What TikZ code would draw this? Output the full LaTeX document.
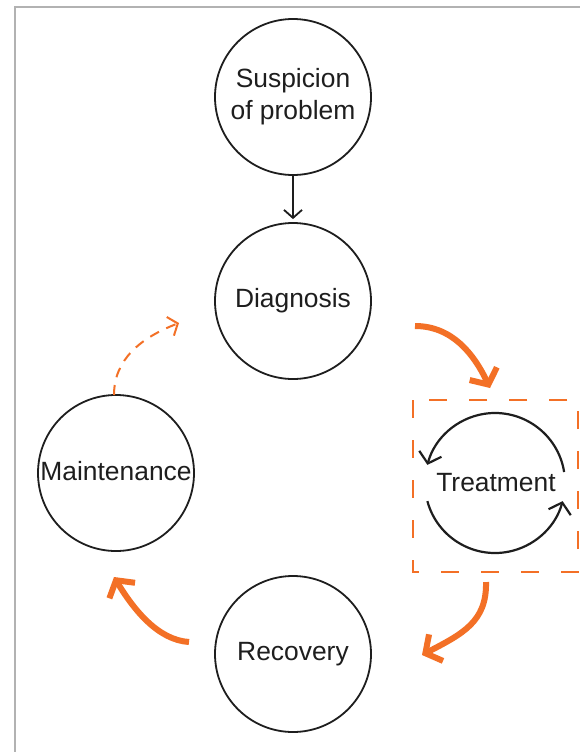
\documentclass[tikz,border=0pt]{standalone}
\usepackage{fontspec}
\setmainfont{Liberation Sans}
\usetikzlibrary{arrows.meta}
\definecolor{orng}{RGB}{243,112,38}
\definecolor{ink}{RGB}{30,30,30}
\definecolor{frame}{RGB}{178,178,178}
\begin{document}
\begin{tikzpicture}[x=1bp,y=-1bp,
  stage/.style={circle,draw=ink,line width=1.8bp,minimum size=156bp,inner sep=0pt,align=center,
    text=ink,font=\fontsize{26.5}{32}\selectfont},
  blackarrow/.style={draw=ink,line width=1.8bp,-{Straight Barb[length=8bp,width=18bp]}},
  bigarrow/.style={draw=orng,line width=6bp,-{Straight Barb[length=12bp,width=30bp]}},
  dasharrow/.style={draw=orng,line width=2bp,dash pattern=on 10bp off 8bp,-{Straight Barb[length=8bp,width=20bp,line width=2bp]}},
  cyclearrow/.style={draw=ink,line width=2.2bp,-{Straight Barb[length=10bp,width=23bp]}},
  dashbox/.style={draw=orng,line width=2bp,dash pattern=on 18bp off 22bp}]
\useasboundingbox (0,0) rectangle (580,752);
\fill[white] (0,0) rectangle (580,752);
\draw[frame,line width=2bp] (14.5,752) -- (14.5,7.5) -- (580,7.5);

\node[stage] (susp) at (293,97) {Suspicion\\of problem};
\node[stage] (diag) at (293,301) {Diagnosis};
\node[stage] (maint) at (116,473) {\raisebox{4bp}{Maintenance}};
\node[stage] (recov) at (293,654) {Recovery};

\draw[dashbox] (413,400) rectangle (578,572);
\node[text=ink,font=\fontsize{26.5}{32}\selectfont,inner sep=0pt] (treat) at (496,483) {Treatment};

\draw[blackarrow] (susp.south) -- ([yshift=3bp]diag.north);

% cycle inside treatment
\coordinate (cc) at (495,483);
\draw[cyclearrow] ([shift={(9:70bp)}]cc) arc[start angle=9,end angle=165,radius=70bp];
\draw[cyclearrow] ([shift={(195:70bp)}]cc) arc[start angle=195,end angle=345,radius=70bp];

% orange arrows
\coordinate (a1s) at (415,326);
\coordinate (a1e) at (490,388);
\draw[bigarrow] (a1s) .. controls (452,326) and (474,354) .. (a1e);

\coordinate (a2s) at (486,582);
\coordinate (a2e) at (422,655);
\draw[bigarrow] (a2s) .. controls (487,622) and (462,634) .. (a2e);

\coordinate (a3s) at (189,642);
\coordinate (a3e) at (114,577);
\draw[bigarrow] (a3s) .. controls (158,640) and (134,610) .. (a3e);

\coordinate (a4s) at (114,395);
\coordinate (a4e) at (179,323);
\draw[dasharrow] (a4s) .. controls (114,360) and (140,338) .. (a4e);
\end{tikzpicture}
\end{document}
